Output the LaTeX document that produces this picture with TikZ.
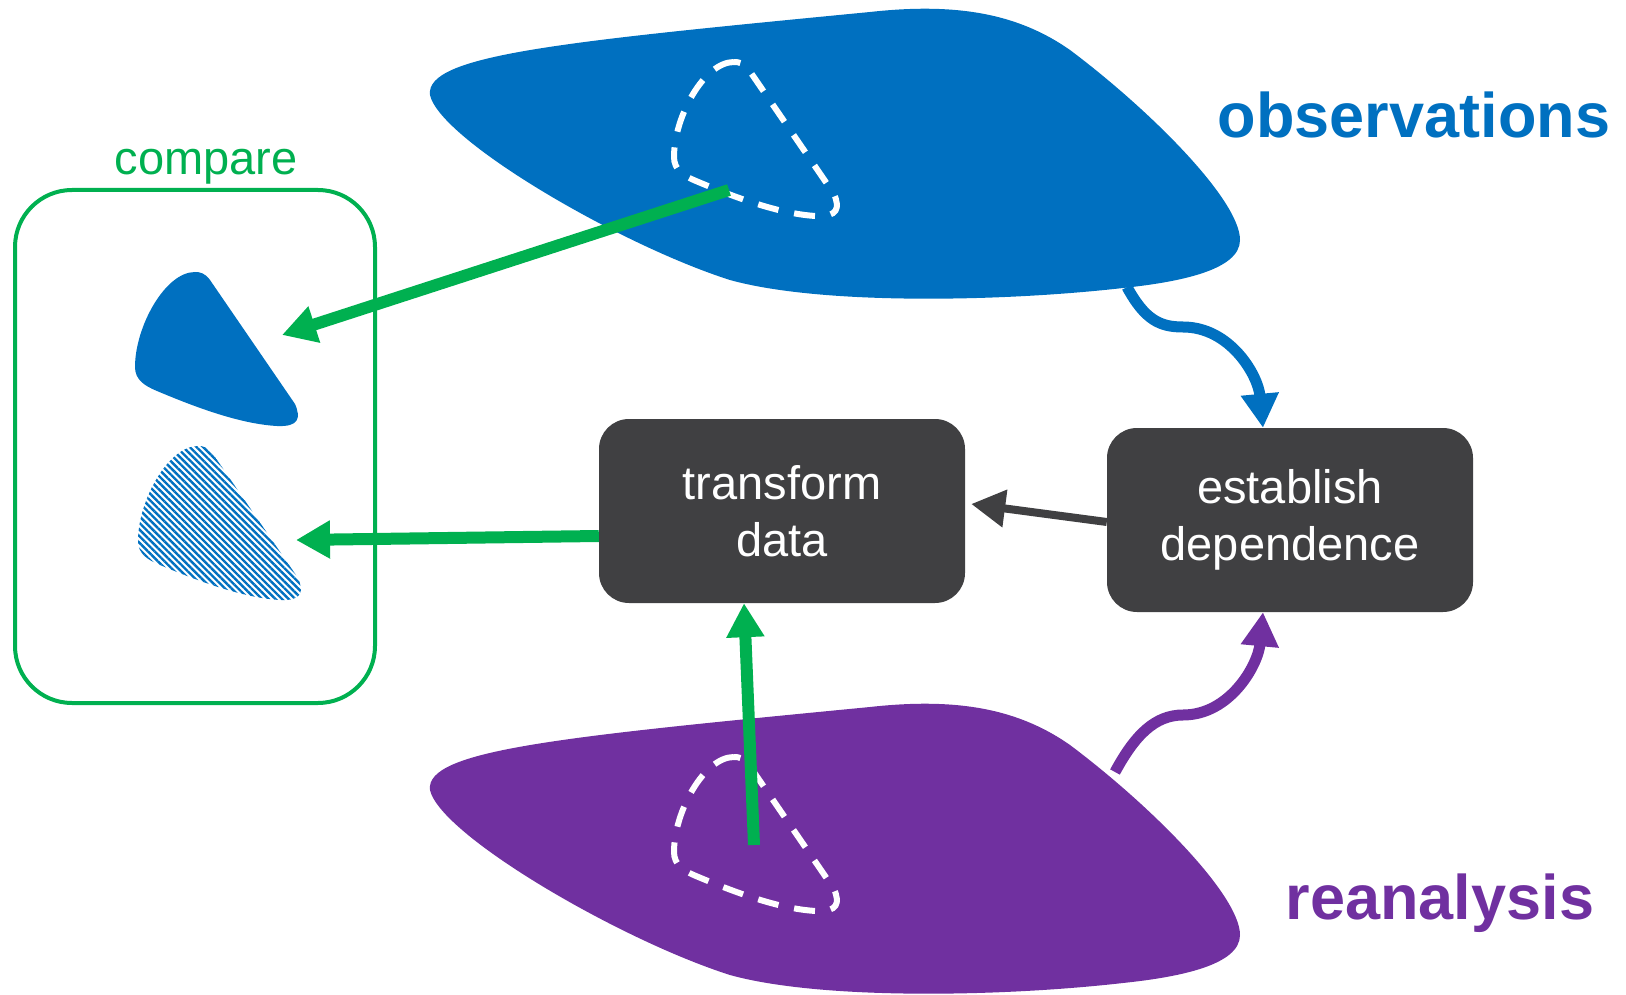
\documentclass[tikz,border=0pt]{standalone}
\usepackage{fontspec}
\setmainfont{Liberation Sans}
\usetikzlibrary{arrows.meta,patterns.meta,positioning}
\definecolor{obsblue}{HTML}{0070C0}
\definecolor{reapurple}{HTML}{7030A0}
\definecolor{cmpgreen}{HTML}{00B050}
\definecolor{boxgrey}{HTML}{404042}
% big cloud and small drop, drawn from their own origin
\newcommand{\cloudshape}{(430,95) .. controls (425,55) and (560,42) .. (870,12)
  .. controls (960,2) and (1020,15) .. (1070,50)
  .. controls (1150,110) and (1240,200) .. (1240,240)
  .. controls (1240,270) and (1180,282) .. (1123,288)
  .. controls (1000,302) and (820,305) .. (730,280)
  .. controls (620,245) and (440,140) .. (430,95) -- cycle}
\newcommand{\dropshape}{(0,0) .. controls (-30,0) and (-60,55) .. (-60,95)
  .. controls (-60,108) and (-50,114) .. (-38,119)
  .. controls (0,135) and (45,152) .. (82,154)
  .. controls (104,155) and (106,146) .. (100,132)
  -- (15,8) .. controls (10,1) and (5,0) .. (0,0) -- cycle}

\begin{document}
\begin{tikzpicture}[x=1pt,y=-1pt,
      stepbox/.style={
         rectangle,
         rounded corners=30pt,
         fill=boxgrey,
         text=white,
         align=center,
         minimum width=366pt,
         minimum height=184pt,
         font=\fontsize{47}{57}\selectfont
      },
      framebox/.style={
         rectangle,
         rounded corners=57pt,
         draw=cmpgreen,
         line width=4pt,
         minimum width=360pt,
         minimum height=513pt
      },
      title/.style={anchor=base,font=\fontsize{63}{70}\selectfont\bfseries},
      label/.style={anchor=base,font=\fontsize{47}{57}\selectfont},
      tip/.style={-{Triangle[length=34pt,width=36pt]}},
      flow/.style={tip,line width=11pt},
      dashdrop/.style={draw=white,line width=6pt,dash pattern=on 21pt off 16pt},
      hatch/.style={pattern={Lines[angle=-45,distance=4.7pt,line width=2.4pt]},pattern color=obsblue}
    ]
    \useasboundingbox (0,0) rectangle (1626,995);

    \node (cmpbox) [framebox] at (195,446.5) {};
    \node (cmplabel) [label,text=cmpgreen] at (206,175) {compare};

    \fill[obsblue] \cloudshape;
    \fill[reapurple,shift={(0,695)}] \cloudshape;
    \path[dashdrop,shift={(734,62)}] \dropshape;
    \path[dashdrop,shift={(734,757)}] \dropshape;
    \fill[obsblue,shift={(195,272)}] \dropshape;
    \path[hatch,shift={(198,446)}] \dropshape;

    \node (obslabel) [title,text=obsblue] at (1414,138) {observations};
    \node (realabel) [title,text=reapurple] at (1440,919) {reanalysis};

    \node (transform) [stepbox] at (782,511) {transform\\data};
    \node (establish) [stepbox] at (1290,520) {establish\\dependence};

    \coordinate (obsout) at (1127,287);
    \coordinate (reaout) at (1115,772);
    \coordinate (obsdrop) at (729,190);
    \coordinate (readrop) at (754,845);
    \coordinate (cmpobs) at (282,335);
    \coordinate (cmprea) at (296,540);

    \draw[flow,obsblue] (obsout) .. controls (1145,320) and (1160,327) .. (1183,327)
       .. controls (1230,327) and (1258,375) .. ([xshift=-27pt]establish.north);
    \draw[flow,reapurple] (reaout) .. controls (1135,735) and (1155,715) .. (1183,715)
       .. controls (1230,715) and (1258,665) .. ([xshift=-27pt]establish.south);
    \draw[tip,line width=8pt,boxgrey] ([yshift=-2pt]establish.west) -- ([xshift=6pt,yshift=7pt]transform.east);
    \draw[flow,line width=12pt,cmpgreen] (obsdrop) -- (cmpobs);
    \draw[flow,line width=12pt,cmpgreen] ([yshift=-25pt]transform.west) -- (cmprea);
    \draw[flow,line width=12pt,cmpgreen] (readrop) -- ([xshift=-38pt]transform.south);
\end{tikzpicture}
\end{document}
